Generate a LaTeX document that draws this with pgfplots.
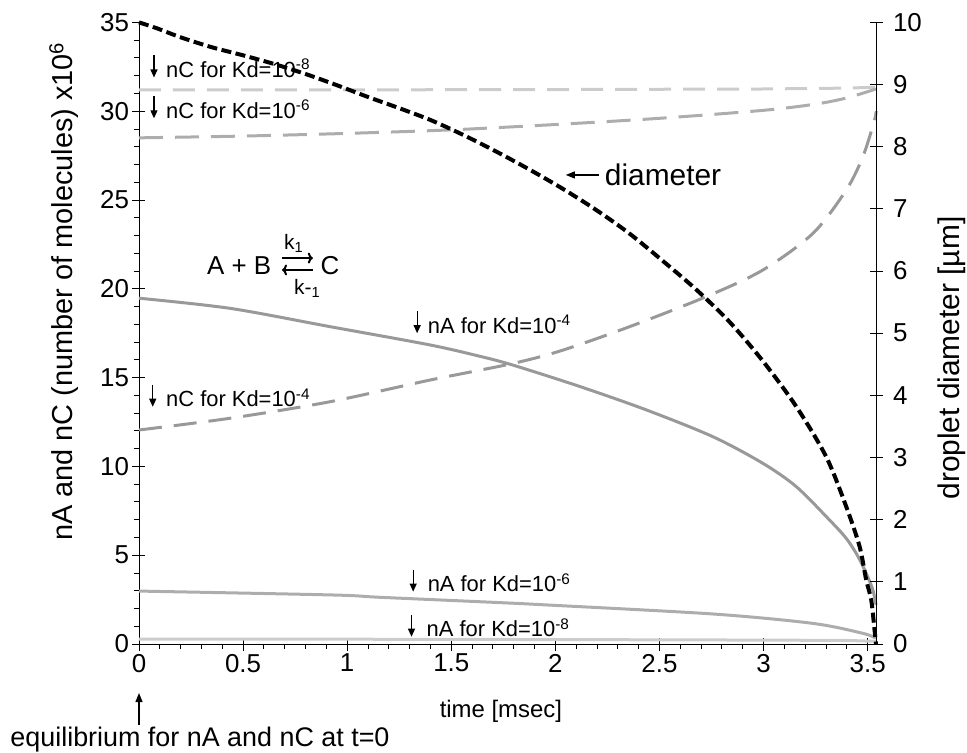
\documentclass[border=0pt]{standalone}
\usepackage{pgfplots}
\pgfplotsset{compat=1.18}
\usetikzlibrary{arrows.meta}
\usepackage{fontspec}
\setmainfont{Liberation Sans}

\definecolor{lite}{gray}{0.80}
\definecolor{mid}{gray}{0.68}
\definecolor{dark}{gray}{0.60}

\pgfplotsset{
  common/.style={
    at={(0,0)}, anchor=south west,
    scale only axis, width=737bp, height=621.6bp,
    xmin=0, xmax=3.54,
    clip=false,
    axis line style={black, line width=0.9bp},
    tick style={black, line width=0.9bp},
    tick align=center,
    major tick length=13bp,
    minor tick length=5bp,
    every tick label/.append style={font=\fontsize{26}{30}\selectfont},
    /pgf/number format/assume math mode=true,
  },
}
% small down arrow in front of a curve label
\newcommand\darr[2]{\draw[line width=1.1bp, -{Triangle[length=8bp,width=7bp]}] (axis cs:#1,#2) ++(0,22bp) -- (axis cs:#1,#2);}

\begin{document}
\begin{tikzpicture}
\useasboundingbox (-139bp,-109bp) rectangle (828bp,644bp);

\begin{axis}[
  common,
  ymin=0, ymax=35,
  axis y line*=left, axis x line*=bottom,
  xtick={0,0.5,1,1.5,2,2.5,3,3.5},
  xticklabels={0,0.5,1,1.5,2,2.5,3,3.5},
  minor x tick num=4,
  ytick={0,5,10,15,20,25,30,35},
  minor y tick num=4,
  minor y tick style={xshift=-2.5bp},
  minor x tick style={yshift=-2.5bp},
  xlabel={time [msec]},
  xlabel style={at={(0.491,-0.108)}, anchor=center, font=\fontsize{24}{28}\selectfont},
  ylabel={nA and nC (number of molecules) x10\textsuperscript{6}},
  ylabel style={at={(-0.102,0.567)}, anchor=center, font=\fontsize{29}{34}\selectfont},
]
% nC, Kd = 1e-8
\addplot[lite, line width=3bp, dash pattern=on 22bp off 12bp] coordinates {
  (0,31.2) (1,31.2) (2,31.22) (3,31.25) (3.4,31.3) (3.54,31.35)
};
% nC, Kd = 1e-6
\addplot[mid, line width=3bp, dash pattern=on 24bp off 12bp, smooth, tension=0.5] coordinates {
  (0,28.5) (0.5,28.6) (1,28.75) (1.5,28.95) (2,29.25) (2.5,29.6)
  (3,30.05) (3.25,30.4) (3.4,30.75) (3.54,31.25)
};
% nC, Kd = 1e-4
\addplot[dark, line width=3bp, dash pattern=on 23bp off 12bp, smooth, tension=0.5] coordinates {
  (0,12.05) (0.437,12.71) (0.917,13.64) (1.397,14.86) (1.797,15.8)
  (2.037,16.55) (2.357,17.87) (2.725,19.56) (2.997,21.06) (3.237,23.12)
  (3.397,25.56) (3.477,27.44) (3.533,29.5) (3.54,30.0)
};
% nA, Kd = 1e-4
\addplot[dark, line width=3bp, smooth, tension=0.5] coordinates {
  (0,19.47) (0.437,18.9) (0.917,17.87) (1.397,16.84) (1.637,16.2)
  (1.797,15.7) (2.117,14.5) (2.437,13.18) (2.757,11.67) (2.997,10.17)
  (3.157,8.86) (3.317,6.98) (3.397,5.95) (3.45,5.0)
  (3.493,3.98) (3.525,3.04) (3.54,2.2)
};
% nA, Kd = 1e-6
\addplot[mid, line width=3bp, smooth, tension=0.5] coordinates {
  (0,2.98) (0.93,2.76) (1.157,2.63) (1.733,2.33) (1.957,2.2)
  (2.757,1.69) (3.237,1.16) (3.477,0.6) (3.54,0.32)
};
% nA, Kd = 1e-8
\addplot[lite, line width=3bp] coordinates {
  (0,0.28) (1,0.27) (2,0.25) (3,0.22) (3.4,0.2) (3.54,0.15)
};

% labels on the curves
\begin{scope}[every node/.style={anchor=base west, inner sep=0pt, font=\fontsize{22}{26}\selectfont}]
\node at (axis cs:0.1296,31.9) {nC for Kd=10\textsuperscript{-8}};
\node at (axis cs:0.1296,29.6) {nC for Kd=10\textsuperscript{-6}};
\node at (axis cs:0.1296,13.36) {nC for Kd=10\textsuperscript{-4}};
\node at (axis cs:1.387,17.5) {nA for Kd=10\textsuperscript{-4}};
\node at (axis cs:1.386,2.95) {nA for Kd=10\textsuperscript{-6}};
\node at (axis cs:1.381,0.41) {nA for Kd=10\textsuperscript{-8}};
\node[font=\fontsize{30}{34}\selectfont] at (axis cs:2.237,25.84) {diameter};
\end{scope}
\darr{0.072}{31.9}
\darr{0.072}{29.6}
\darr{0.066}{13.36}
\darr{1.336}{17.5}
\darr{1.317}{2.95}
\darr{1.309}{0.41}
\draw[line width=1.1bp, -{Triangle[length=9bp,width=7bp]}] (axis cs:2.21,26.41) -- (axis cs:2.05,26.41);

% reaction scheme
\node[anchor=base west, inner sep=0pt, font=\fontsize{26}{30}\selectfont] at (axis cs:0.326,20.82) {A + B};
\node[anchor=base west, inner sep=0pt, font=\fontsize{26}{30}\selectfont] at (axis cs:0.872,20.82) {C};
\node[anchor=base west, inner sep=0pt, font=\fontsize{21}{24}\selectfont] at (axis cs:0.696,22.24) {k\textsubscript{1}};
\node[anchor=base west, inner sep=0pt, font=\fontsize{21}{24}\selectfont] at (axis cs:0.744,19.7) {k-\textsubscript{1}};
\draw[line width=2bp, -{To[length=5bp,width=11bp]}] (axis cs:0.687,21.73) -- (axis cs:0.835,21.73);
\draw[line width=2bp, -{To[length=5bp,width=11bp]}] (axis cs:0.835,21.06) -- (axis cs:0.687,21.06);

% equilibrium note
\draw[line width=1.2bp, -{Triangle[length=9bp,width=7bp]}] (axis cs:0,-4.56) -- (axis cs:0,-2.76);
\node[anchor=base, inner sep=0pt, font=\fontsize{27}{31}\selectfont] at (axis cs:0.293,-5.78) {equilibrium for nA and nC at t=0};
\end{axis}

\begin{axis}[
  common,
  ymin=0, ymax=10,
  axis y line*=right, axis x line=none,
  ytick={0,1,2,3,4,5,6,7,8,9,10},
  yticklabel style={xshift=7bp},
  ylabel={droplet diameter [µm]},
  ylabel style={at={(1.103,0.46)}, anchor=center, font=\fontsize{30}{35}\selectfont},
]
% droplet diameter
\addplot[black, line width=4bp, dash pattern=on 10bp off 4.5bp, smooth, tension=0.5] coordinates {
  (0,10) (0.086,9.905) (0.2,9.76) (0.35,9.6) (0.5,9.47) (0.65,9.33)
  (0.8,9.17) (0.95,8.99) (1.1,8.8) (1.25,8.62) (1.4,8.43) (1.557,8.19)
  (1.717,7.92) (1.877,7.63) (2.037,7.32) (2.197,6.98) (2.357,6.6)
  (2.517,6.16) (2.677,5.7) (2.837,5.18) (2.997,4.55) (3.157,3.82)
  (3.301,3.01) (3.397,2.21) (3.461,1.57) (3.493,1.03) (3.517,0.71)
  (3.533,0.225) (3.54,0)
};
\end{axis}
\end{tikzpicture}
\end{document}
